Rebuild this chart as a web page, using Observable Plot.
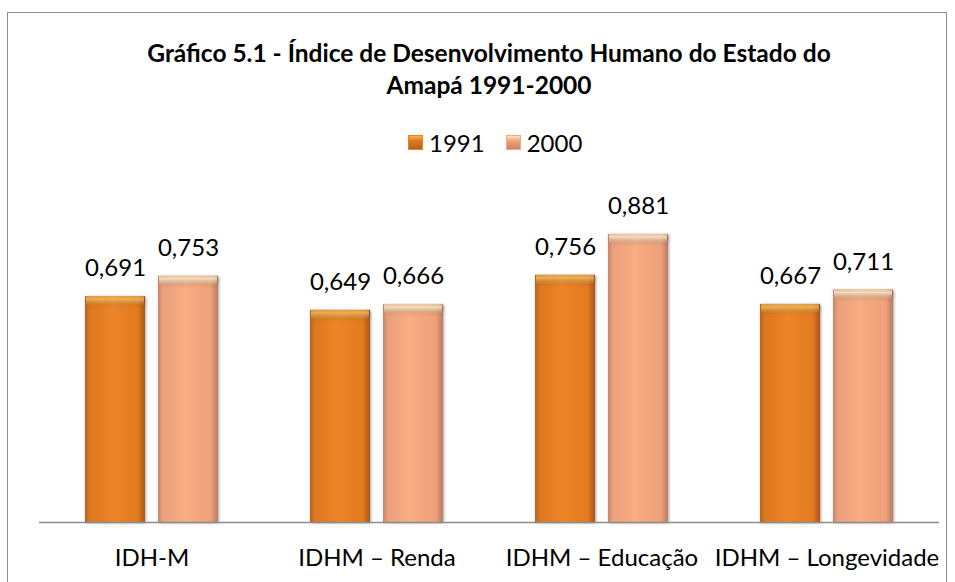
<!DOCTYPE html>
<html><head><meta charset="utf-8">
<script src="https://cdn.jsdelivr.net/npm/d3@7"></script>
<script src="https://cdn.jsdelivr.net/npm/@observablehq/plot@0.6"></script>
<style>
body{margin:0;background:#fff;}
#wrap{position:relative;width:955px;height:582px;overflow:hidden;font-family:Lato, sans-serif;background:#fff;}
#frame{position:absolute;left:7px;top:12px;width:940px;height:620px;border:1px solid #8c8c8c;box-sizing:border-box;}
#title{position:absolute;left:24px;width:930px;top:37px;text-align:center;font-weight:bold;font-size:24.5px;line-height:32px;color:#000;}
#legend{position:absolute;top:127px;left:408px;height:30px;display:flex;align-items:center;font-size:24px;color:#000;}
#legend .sw{width:15px;height:15px;display:inline-block;margin-right:6px;box-sizing:border-box;}
#legend .item{display:flex;align-items:center;margin-right:21px;}
#chart{position:absolute;left:0;top:0;}
g[aria-label="bar"] rect{filter:drop-shadow(1px 1px 1.5px rgba(0,0,0,0.35));}
</style>
</head><body>
<div id="wrap">
  <div id="frame"></div>
  <div id="title">Gráfico 5.1 - Índice de Desenvolvimento Humano do Estado do<br>Amapá 1991-2000</div>
  <div id="legend"></div>
  <div id="chart"></div>
</div>
<script>
const categories = ["IDH-M", "IDHM – Renda", "IDHM – Educação", "IDHM – Longevidade"];
const years = ["1991", "2000"];
const values1991 = [0.691, 0.649, 0.756, 0.667];
const values2000 = [0.753, 0.666, 0.881, 0.711];
const seriesColors = {"1991": "#ec8124", "2000": "#f6a97d"};

const rows = categories.flatMap((c, i) => [
  {cat: c, year: "1991", v: values1991[i]},
  {cat: c, year: "2000", v: values2000[i]}
]);

const bodyFill = d => `url(#body${d.year})`;
const capFill = d => `url(#cap${d.year})`;

const chart = Plot.plot({
  width: 955, height: 582,
  marginLeft: 38, marginRight: 16, marginTop: 195, marginBottom: 60,
  style: {fontFamily: "Lato, sans-serif", fontSize: "24px", color: "#000", background: "transparent", overflow: "visible"},
  facet: {data: rows, x: "cat"},
  fx: {domain: categories, padding: 0, axis: "bottom", label: null, tickSize: 0, tickPadding: 26},
  x: {domain: years, paddingInner: 0.1757, paddingOuter: 0.61, axis: null},
  y: {domain: [0, 1], axis: null},
  color: {type: "identity"},
  marks: [
    Plot.barY(rows, {x: "year", y: "v", fill: bodyFill}),
    Plot.barY(rows, {x: "year", y1: d => d.v - 0.03, y2: "v", fill: capFill, ariaLabel: "cap", insetLeft: 1, insetRight: 1}),
    Plot.ruleY([0], {stroke: "#8c8c8c", strokeWidth: 1.5}),
    Plot.text(rows, {x: "year", y: "v", text: d => d.v.toFixed(3).replace(".", ","), dy: -28, lineAnchor: "middle", fontSize: 24, fill: "#000"})
  ]
});

const defs = `
<defs>
  <linearGradient id="body1991" x1="0" y1="0" x2="1" y2="0">
    <stop offset="0" stop-color="#b8621c"/>
    <stop offset="0.08" stop-color="#dc781f"/>
    <stop offset="0.45" stop-color="#ee8427"/>
    <stop offset="0.88" stop-color="#e27a20"/>
    <stop offset="1" stop-color="#a9561a"/>
  </linearGradient>
  <linearGradient id="body2000" x1="0" y1="0" x2="1" y2="0">
    <stop offset="0" stop-color="#c4876a"/>
    <stop offset="0.08" stop-color="#eba07c"/>
    <stop offset="0.45" stop-color="#f8ad82"/>
    <stop offset="0.88" stop-color="#eea07a"/>
    <stop offset="1" stop-color="#b77c62"/>
  </linearGradient>
  <linearGradient id="cap1991" x1="0" y1="0" x2="0" y2="1">
    <stop offset="0" stop-color="#ffd070" stop-opacity="0.35"/>
    <stop offset="0.3" stop-color="#ffd070" stop-opacity="0.7"/>
    <stop offset="1" stop-color="#ffd070" stop-opacity="0"/>
  </linearGradient>
  <linearGradient id="cap2000" x1="0" y1="0" x2="0" y2="1">
    <stop offset="0" stop-color="#fff3d0" stop-opacity="0.4"/>
    <stop offset="0.3" stop-color="#fff3d0" stop-opacity="0.8"/>
    <stop offset="1" stop-color="#fff3d0" stop-opacity="0"/>
  </linearGradient>
</defs>`;
chart.insertAdjacentHTML("afterbegin", defs);
document.getElementById("chart").appendChild(chart);

const legend = document.getElementById("legend");
const swatchBg = {
  "1991": "linear-gradient(180deg,#f7b451 0%,#e07a22 35%,#b8621c 100%)",
  "2000": "linear-gradient(180deg,#fde6c2 0%,#f2a57c 35%,#c4876a 100%)"
};
years.forEach(y => {
  const item = document.createElement("div");
  item.className = "item";
  const sw = document.createElement("span");
  sw.className = "sw";
  sw.style.background = swatchBg[y];
  sw.style.border = "1px solid " + seriesColors[y];
  const t = document.createElement("span");
  t.textContent = y;
  item.appendChild(sw); item.appendChild(t);
  legend.appendChild(item);
});
</script>
</body></html>
